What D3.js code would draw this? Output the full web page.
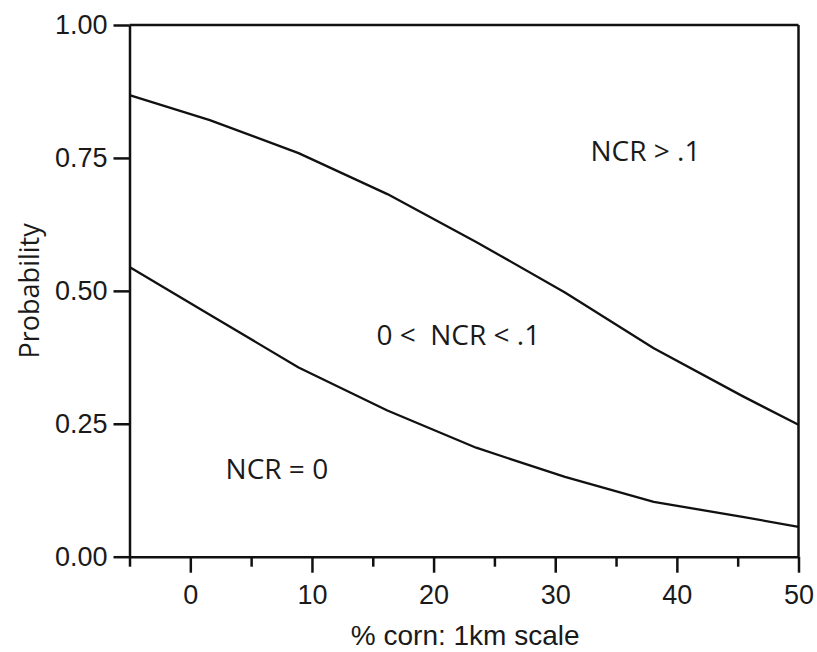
<!DOCTYPE html>
<html>
  <head>
    <meta charset="utf-8">
    <title>Probability vs % corn</title>
    <script src="https://cdn.jsdelivr.net/npm/d3@7/dist/d3.min.js"></script>
    <style>
      body { margin: 0; background: #fff; }
      .tick text { font-family: "Liberation Sans", Arial, sans-serif; font-size: 27px; fill: #1a1a1a; }
      .tick line, .domain { stroke: #111; stroke-width: 2.5px; }
      .region { font-family: "Open Sans", "Noto Sans", sans-serif; font-size: 28px; fill: #1a1a1a; white-space: pre; }
    </style>
  </head>
  <body>
    <div id="chart"></div>
    <script>
      // values
      var cornPct   = [-5, 1.6, 8.9, 16.2, 23.5, 30.8, 38.1, 45.4, 50];
      var upperProb = [0.868, 0.821, 0.759, 0.682, 0.592, 0.497, 0.392, 0.302, 0.248];
      var lowerProb = [0.545, 0.455, 0.356, 0.275, 0.205, 0.150, 0.103, 0.075, 0.056];

      var xMajorTicks = [0, 10, 20, 30, 40, 50];
      var xMinorTicks = [-5, 5, 15, 25, 35, 45];
      var yTicks = [0, 0.25, 0.5, 0.75, 1];

      var regionLabels = ["NCR > .1", "0 <  NCR < .1", "NCR = 0"];
      var regionX = [32.9, 15.3, 2.9];
      var regionY = [0.744, 0.398, 0.146];

      var margin = {top: 25, right: 18.5, bottom: 95.3, left: 129.5},
          width = 817 - margin.left - margin.right,
          height = 652 - margin.top - margin.bottom;

      var svg = d3.select("#chart")
        .append("svg")
          .attr("width", 817)
          .attr("height", 652)
        .append("g")
          .attr("transform", "translate(" + margin.left + "," + margin.top + ")");

      var x = d3.scaleLinear().domain([-5, 50]).range([0, width]);
      var y = d3.scaleLinear().domain([0, 1]).range([height, 0]);

      // frame top and right
      svg.append("line")
        .attr("x1", x(-5)).attr("x2", x(50))
        .attr("y1", y(1)).attr("y2", y(1))
        .attr("stroke", "#111").attr("stroke-width", 2.5);
      svg.append("line")
        .attr("x1", x(50)).attr("x2", x(50))
        .attr("y1", y(1)).attr("y2", y(0))
        .attr("stroke", "#111").attr("stroke-width", 2.5);

      // X axis
      svg.append("g")
        .attr("transform", "translate(0," + height + ")")
        .call(d3.axisBottom(x).tickValues(xMinorTicks).tickSize(10).tickSizeOuter(0).tickFormat(""))
        .call(function(g) { g.select(".domain").remove(); });
      svg.append("g")
        .attr("transform", "translate(0," + height + ")")
        .call(d3.axisBottom(x).tickValues(xMajorTicks).tickSize(16).tickSizeOuter(0).tickPadding(12));

      // Y axis
      svg.append("g")
        .call(d3.axisLeft(y).tickValues(yTicks).tickSize(16).tickSizeOuter(0).tickPadding(6)
          .tickFormat(d3.format(".2f")));

      // axis titles
      svg.append("text")
        .attr("x", x(22.6))
        .attr("y", height + 88)
        .attr("text-anchor", "middle")
        .style("font-family", "'Liberation Sans', Arial, sans-serif")
        .style("font-size", "28px")
        .style("fill", "#1a1a1a")
        .text("% corn: 1km scale");

      svg.append("text")
        .attr("transform", "translate(" + (-91) + "," + y(0.5) + ")rotate(-90)")
        .attr("text-anchor", "middle")
        .style("font-family", "'Open Sans', 'Noto Sans', sans-serif")
        .style("font-size", "27px")
        .style("fill", "#1a1a1a")
        .text("Probability");

      // curves
      var line = d3.line()
        .x(function(d) { return x(d[0]); })
        .y(function(d) { return y(d[1]); });

      [upperProb, lowerProb].forEach(function(series) {
        svg.append("path")
          .datum(d3.zip(cornPct, series))
          .attr("d", line)
          .attr("fill", "none")
          .attr("stroke", "#111")
          .attr("stroke-width", 2.3)
          .attr("stroke-linejoin", "round");
      });

      // region labels
      svg.selectAll(".region")
        .data(regionLabels)
        .enter()
        .append("text")
          .attr("class", "region")
          .attr("x", function(d, i) { return x(regionX[i]); })
          .attr("y", function(d, i) { return y(regionY[i]); })
          .text(function(d) { return d; });
    </script>
  </body>
</html>
